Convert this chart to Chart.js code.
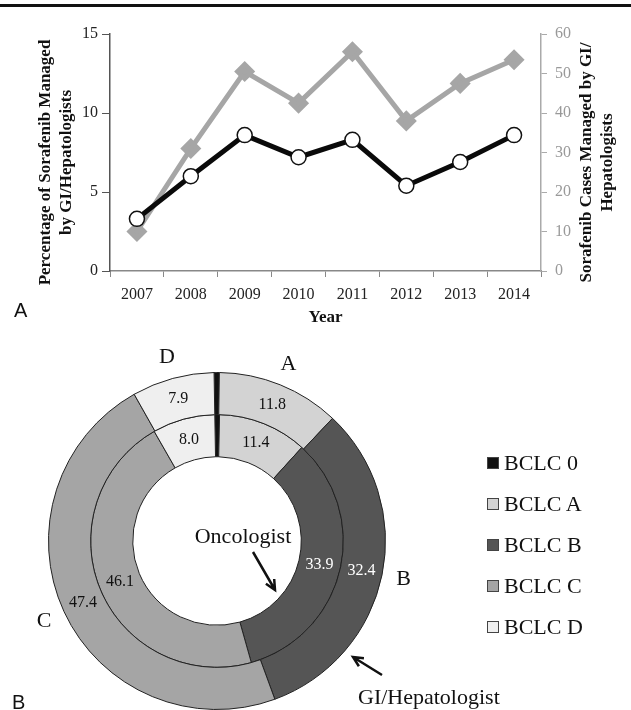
<!DOCTYPE html>
<html>
<head>
<meta charset="utf-8">
<script src="https://cdn.jsdelivr.net/npm/chart.js@4.4.0/dist/chart.umd.min.js"></script>
<style>
  body { margin: 0; background: #fff; }
  #wrap { position: relative; width: 631px; height: 710px; overflow: hidden; }
  #topRule { position: absolute; left: 0; top: 4px; width: 631px; height: 3px; background: #111; }
  #lineChart { position: absolute; left: 0; top: 0; }
  #donutChart { position: absolute; left: 0; top: 340px; }
  .panel { position: absolute; font-family: "Liberation Sans", Arial, sans-serif; font-size: 20px; color: #111; line-height: 20px; }
  #legend { position: absolute; left: 487px; top: 442px; font-family: "Liberation Serif", serif; font-size: 22px; color: #111; }
  .item { height: 41px; display: flex; align-items: center; }
  .box { width: 10px; height: 10px; border: 1px solid #444; margin-right: 5px; }
</style>
</head>
<body>
<div id="wrap">
  <div id="topRule"></div>
  <canvas id="lineChart" width="631" height="340"></canvas>
  <canvas id="donutChart" width="631" height="370"></canvas>
  <div id="legend"></div>
  <div class="panel" style="left:14px; top:300px;">A</div>
  <div class="panel" style="left:12px; top:692px;">B</div>
</div>
<script>
// panel A data
const years = ['2007', '2008', '2009', '2010', '2011', '2012', '2013', '2014'];
const pctGI = [3.3, 6.0, 8.6, 7.2, 8.3, 5.4, 6.9, 8.6];      // % of sorafenib managed by GI/hepatologists
const casesGI = [10, 31, 50.5, 42.5, 55.5, 38, 47.5, 53.5];  // sorafenib cases managed by GI/hepatologists
const pctTicks = [0, 5, 10, 15];
const caseTicks = [0, 10, 20, 30, 40, 50, 60];

// panel B data
const stages = ['BCLC 0', 'BCLC A', 'BCLC B', 'BCLC C', 'BCLC D'];
const stageLetters = ['', 'A', 'B', 'C', 'D'];
const giShare = [0.5, 11.8, 32.4, 47.4, 7.9];
const oncShare = [0.6, 11.4, 33.9, 46.1, 8.0];
const stageColors = ['#111111', '#d3d3d3', '#555555', '#a5a5a5', '#efefef'];

const serif = '"Liberation Serif", "Times New Roman", serif';

// rotated y titles (both read bottom to top)
const yTitles = {
  id: 'yTitles',
  afterDraw(chart) {
    const {ctx, scales: {y, y1}} = chart;
    const mid = (y.top + y.bottom) / 2 + 10;
    const put = (lines, x) => {
      lines.forEach((t, i) => {
        ctx.save();
        ctx.translate(x + i * 21, mid);
        ctx.rotate(-Math.PI / 2);
        ctx.fillText(t, 0, 0);
        ctx.restore();
      });
    };
    ctx.save();
    ctx.font = 'bold 17px ' + serif;
    ctx.fillStyle = '#111';
    ctx.textAlign = 'center';
    ctx.textBaseline = 'middle';
    put(['Percentage of Sorafenib Managed', 'by GI/Hepatologists'], y.left + 46);
    put(['Sorafenib Cases Managed by GI/', 'Hepatologists'], y1.left + 46);
    ctx.restore();
  }
};

new Chart(document.getElementById('lineChart'), {
  type: 'line',
  data: {
    labels: years,
    datasets: [{
      label: 'Percentage',
      data: pctGI,
      yAxisID: 'y',
      borderColor: '#0a0a0a',
      borderWidth: 5,
      tension: 0,
      pointRadius: 7.5,
      pointBackgroundColor: '#fff',
      pointBorderColor: '#111',
      pointBorderWidth: 1.5
    }, {
      label: 'Cases',
      data: casesGI,
      yAxisID: 'y1',
      borderColor: '#a6a6a6',
      borderWidth: 5,
      tension: 0,
      pointStyle: 'rectRot',
      pointRadius: 7,
      pointBackgroundColor: '#a6a6a6',
      pointBorderColor: '#a6a6a6'
    }]
  },
  options: {
    responsive: false,
    animation: false,
    layout: { padding: { top: 34, left: 0, right: 0, bottom: 0 } },
    plugins: { legend: { display: false }, tooltip: { enabled: false } },
    scales: {
      x: {
        offset: true,
        grid: { offset: true, drawOnChartArea: false, tickLength: 6, color: '#888' },
        border: { color: '#888', width: 1.5 },
        ticks: { font: { family: serif, size: 16 }, color: '#222', padding: 8, maxRotation: 0 },
        title: { display: true, text: 'Year', font: { family: serif, size: 17, weight: 'bold' }, color: '#111', padding: { top: 0, bottom: 12 } },
        afterFit(s) { s.height = 69; }
      },
      y: {
        position: 'left',
        min: pctTicks[0],
        max: pctTicks[pctTicks.length - 1],
        afterBuildTicks(s) { s.ticks = pctTicks.map(v => ({ value: v })); },
        grid: { drawOnChartArea: false, tickLength: 8, color: '#555' },
        border: { color: '#555', width: 1.5 },
        ticks: { font: { family: serif, size: 16 }, color: '#222', padding: 4 },
        afterFit(s) { s.width = 110; }
      },
      y1: {
        position: 'right',
        min: caseTicks[0],
        max: caseTicks[caseTicks.length - 1],
        afterBuildTicks(s) { s.ticks = caseTicks.map(v => ({ value: v })); },
        grid: { drawOnChartArea: false, tickLength: 6, color: '#aaa' },
        border: { color: '#aaa', width: 1.5 },
        ticks: { font: { family: serif, size: 16 }, color: '#999', padding: 8 },
        afterFit(s) { s.width = 90; }
      }
    }
  },
  plugins: [yTitles]
});

function arrow(ctx, x1, y1, x2, y2) {
  const a = Math.atan2(y2 - y1, x2 - x1);
  ctx.beginPath();
  ctx.moveTo(x1, y1);
  ctx.lineTo(x2, y2);
  ctx.moveTo(x2 - 11 * Math.cos(a - 0.45), y2 - 11 * Math.sin(a - 0.45));
  ctx.lineTo(x2, y2);
  ctx.lineTo(x2 - 11 * Math.cos(a + 0.45), y2 - 11 * Math.sin(a + 0.45));
  ctx.stroke();
}

// values in rings, stage letters, and the ring callouts
const ringText = {
  id: 'ringText',
  afterDatasetsDraw(chart) {
    const {ctx} = chart;
    ctx.save();
    ctx.textAlign = 'center';
    ctx.textBaseline = 'middle';
    ctx.font = '16px ' + serif;
    chart.data.datasets.forEach((ds, di) => {
      chart.getDatasetMeta(di).data.forEach((arc, i) => {
        if (i === 0) return;
        const p = arc.tooltipPosition();
        ctx.fillStyle = i === 2 ? '#fff' : '#111';
        ctx.fillText(ds.data[i].toFixed(1), p.x, p.y);
      });
    });
    const outer = chart.getDatasetMeta(0).data;
    ctx.font = '22px ' + serif;
    ctx.fillStyle = '#111';
    outer.forEach((arc, i) => {
      if (!stageLetters[i]) return;
      const {x, y, startAngle, endAngle, outerRadius} = arc.getProps(['x', 'y', 'startAngle', 'endAngle', 'outerRadius']);
      const a = (startAngle + endAngle) / 2;
      const r = outerRadius + 22;
      ctx.fillText(stageLetters[i], x + Math.cos(a) * r, y + Math.sin(a) * r);
    });
    const cx = outer[0].x, cy = outer[0].y;
    ctx.fillText('Oncologist', cx + 26, cy - 4);
    ctx.textAlign = 'left';
    ctx.fillText('GI/Hepatologist', cx + 141, cy + 157);
    ctx.strokeStyle = '#111';
    ctx.lineWidth = 2.5;
    arrow(ctx, cx + 36, cy + 11, cx + 58, cy + 49);
    arrow(ctx, cx + 165, cy + 134, cx + 136, cy + 116);
    ctx.restore();
  }
};

const donut = new Chart(document.getElementById('donutChart'), {
  type: 'doughnut',
  data: {
    labels: stages,
    datasets: [
      { label: 'GI/Hepatologist', data: giShare, backgroundColor: stageColors, borderColor: '#222', borderWidth: 1 },
      { label: 'Oncologist', data: oncShare, backgroundColor: stageColors, borderColor: '#222', borderWidth: 1 }
    ]
  },
  options: {
    responsive: false,
    animation: false,
    cutout: '50%',
    rotation: -1,
    layout: { padding: { left: 48, top: 32, right: 245, bottom: 0 } },
    plugins: { legend: { display: false }, tooltip: { enabled: false } }
  },
  plugins: [ringText]
});

// legend built from the chart's own label generator
const legendEl = document.getElementById('legend');
donut.options.plugins.legend.labels.generateLabels(donut).forEach(item => {
  const row = document.createElement('div');
  row.className = 'item';
  const box = document.createElement('span');
  box.className = 'box';
  box.style.background = item.fillStyle;
  row.appendChild(box);
  row.appendChild(document.createTextNode(item.text));
  legendEl.appendChild(row);
});
</script>
</body>
</html>
